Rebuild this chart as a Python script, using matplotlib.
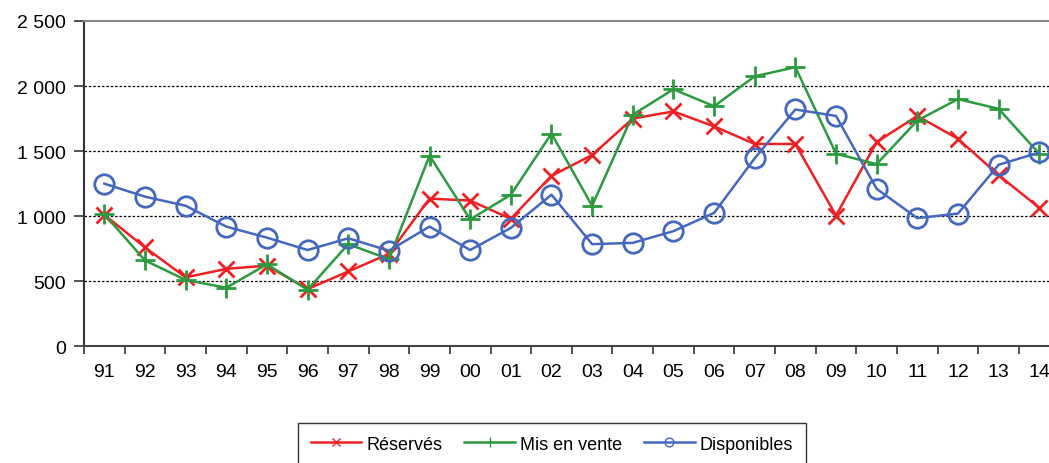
import matplotlib
matplotlib.use("Agg")
import matplotlib.pyplot as plt
import numpy as np

plt.rcParams['font.family'] = ['Liberation Sans', 'DejaVu Sans']

years = ["91", "92", "93", "94", "95", "96", "97", "98", "99", "00", "01", "02",
         "03", "04", "05", "06", "07", "08", "09", "10", "11", "12", "13", "14"]
reserves = [1010, 760, 530, 595, 620, 440, 575, 710, 1135, 1120, 980, 1310,
            1470, 1750, 1805, 1690, 1555, 1555, 1005, 1570, 1770, 1595, 1315, 1065]
mis_en_vente = [1015, 660, 510, 450, 630, 435, 785, 670, 1465, 975, 1165, 1635,
                1080, 1780, 1975, 1845, 2075, 2145, 1480, 1400, 1735, 1900, 1825, 1480]
disponibles = [1250, 1150, 1080, 920, 835, 740, 830, 735, 920, 740, 910, 1165,
               785, 795, 885, 1025, 1445, 1820, 1770, 1210, 985, 1020, 1395, 1490]

red = "#EE2024"
green = "#2C9A3E"
blue = "#4468BE"

fig = plt.figure(figsize=(10.49, 4.64), dpi=100)
ax = fig.add_axes([0.0801, 0.2515, 0.93, 0.7011])

x = np.arange(len(years))
ax.plot(x, reserves, color=red, lw=1.8, marker="x", ms=12, mew=2, label="Réservés", zorder=3)
ax.plot(x, mis_en_vente, color=green, lw=1.8, marker="+", ms=15, mew=2, label="Mis en vente", zorder=3)
ax.plot(x, disponibles, color=blue, lw=1.8, marker="o", ms=14, mew=2, mfc="none",
        label="Disponibles", zorder=4)

ax.set_xlim(-0.5, len(years) - 0.5)
ax.set_ylim(0, 2500)
ax.set_yticks([0, 500, 1000, 1500, 2000, 2500])
ax.set_yticklabels(["0", "500", "1 000", "1 500", "2 000", "2 500"])
for v in [500, 1000, 1500, 2000]:
    ax.axhline(v, color="black", lw=0.9, ls=(0, (2, 1.5)), zorder=1)

ax.set_xticks(x)
ax.set_xticklabels(years)
ax.set_xticks(np.arange(len(years) + 1) - 0.5, minor=True)
ax.tick_params(axis="x", which="major", length=0, pad=12, labelsize=14)
ax.tick_params(axis="x", which="minor", length=6, width=1.2, direction="out", color="#333333")
ax.tick_params(axis="y", length=7, width=1.2, direction="out", pad=6, labelsize=14, color="#333333")

ax.spines["top"].set_color("#888888")
ax.spines["top"].set_linewidth(1.5)
ax.spines["left"].set_color("#333333")
ax.spines["left"].set_linewidth(1.5)
ax.spines["bottom"].set_color("#444444")
ax.spines["bottom"].set_linewidth(1.5)
ax.spines["right"].set_visible(False)

leg = fig.legend(loc="upper center", bbox_to_anchor=(552 / 1049, 1 - 424 / 464), ncol=3,
                 fontsize=13, frameon=True, fancybox=False, edgecolor="black",
                 handlelength=2.8, markerscale=0.45, columnspacing=1.2, borderpad=0.7,
                 handletextpad=0.3, borderaxespad=0)
leg.get_frame().set_linewidth(1.0)
for h in leg.legend_handles:
    h.set_markeredgewidth(1.0)

fig.savefig("out.png", dpi=100)
